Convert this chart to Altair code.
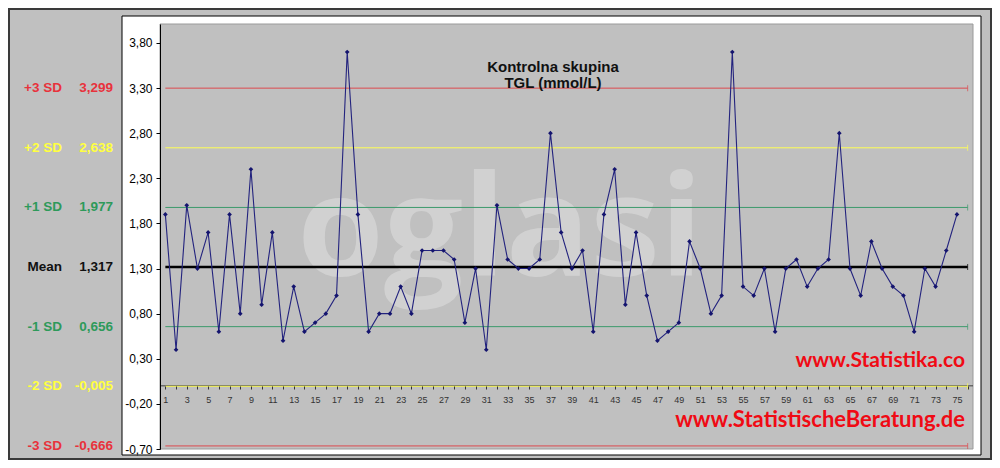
import altair as alt
import pandas as pd

# ---- data ----
measurements = [1.9, 0.4, 2.0, 1.3, 1.7, 0.6, 1.9, 0.8, 2.4, 0.9,
                1.7, 0.5, 1.1, 0.6, 0.7, 0.8, 1.0, 3.7, 1.9, 0.6,
                0.8, 0.8, 1.1, 0.8, 1.5, 1.5, 1.5, 1.4, 0.7, 1.3,
                0.4, 2.0, 1.4, 1.3, 1.3, 1.4, 2.8, 1.7, 1.3, 1.5,
                0.6, 1.9, 2.4, 0.9, 1.7, 1.0, 0.5, 0.6, 0.7, 1.6,
                1.3, 0.8, 1.0, 3.7, 1.1, 1.0, 1.3, 0.6, 1.3, 1.4,
                1.1, 1.3, 1.4, 2.8, 1.3, 1.0, 1.6, 1.3, 1.1, 1.0,
                0.6, 1.3, 1.1, 1.5, 1.9]
sample_no = list(range(1, len(measurements) + 1))

sd_names = ["+3 SD", "+2 SD", "+1 SD", "Mean", "-1 SD", "-2 SD", "-3 SD"]
sd_values = [3.299, 2.638, 1.977, 1.317, 0.656, -0.005, -0.666]
sd_texts = ["3,299", "2,638", "1,977", "1,317", "0,656", "-0,005", "-0,666"]
sd_line_colors = ["#dc4a4f", "#ffff55", "#3c9a6c", "#000000", "#3c9a6c", "#ffff55", "#dc4a4f"]
sd_text_colors = ["#e8323c", "#ffff40", "#2e9a5a", "#111111", "#2e9a5a", "#ffff40", "#e8323c"]
sd_widths = [1, 1, 1, 2.5, 1, 1, 1]
line_start, line_end = 1, 76

y_ticks = [-0.7, -0.2, 0.3, 0.8, 1.3, 1.8, 2.3, 2.8, 3.3, 3.8]
x_ticks = list(range(1, 77))

title_text = "Kontrolna skupina\nTGL (mmol/L)"
site1 = "www.Statistika.co"
site2 = "www.StatistischeBeratung.de"
watermark = "oglasi"

# ---- tables ----
df = pd.DataFrame({"n": sample_no, "v": measurements})
sd = pd.DataFrame({"name": sd_names, "val": sd_values, "txt": sd_texts,
                   "lc": sd_line_colors, "tc": sd_text_colors, "w": sd_widths,
                   "x0": line_start, "x1": line_end})
one = pd.DataFrame({"a": [0]})
zero = pd.DataFrame({"y": [0.0], "x0": [line_start - 0.5], "x1": [line_end + 0.5]})

W, H = 813, 425
FONT = "Liberation Sans"
xs = alt.Scale(domain=[0.5, 76.5], nice=False, zero=False)
ys = alt.Scale(domain=[-0.70, 4.01], nice=False, zero=False)
x_axis = alt.Axis(values=x_ticks, labelExpr="datum.value % 2 == 1 ? datum.label : ''",
                  offset=-63, domain=False, tickSize=3, tickColor="#333333",
                  labelFont=FONT, labelFontSize=9, labelColor="#333333", labelPadding=6,
                  grid=False, title=None, zindex=1, labelFlush=False, labelOverlap=False,
                  labelBound=False)
y_axis = alt.Axis(values=y_ticks,
                  labelExpr="(datum.value < 0 ? '-' : '') + replace(format(abs(datum.value), '.2f'), '.', ',')",
                  tickSize=4, tickColor="#000000", domainColor="#000000",
                  labelFont=FONT, labelFontSize=12, labelColor="#000000", labelPadding=4,
                  grid=False, title=None, zindex=1, labelOverlap=False)


def X(f):
    return alt.X(f, scale=xs, axis=x_axis)


def Y(f):
    return alt.Y(f, scale=ys, axis=y_axis)


frame = alt.Chart(one).mark_rect(fill="#c0c0c0", fillOpacity=0, stroke="#3a3a3a", strokeWidth=2).encode(
    x=alt.value(-151), x2=alt.value(831), y=alt.value(-15), y2=alt.value(435))
white_box = alt.Chart(one).mark_rect(fill="white", stroke="#000000", strokeWidth=1).encode(
    x=alt.value(-38), x2=alt.value(821), y=alt.value(-8), y2=alt.value(431))
plot_bg = alt.Chart(one).mark_rect(fill="#c0c0c0", stroke="#9a9a9a", strokeWidth=1).encode(
    x=alt.value(0), x2=alt.value(W), y=alt.value(0), y2=alt.value(H))

wm = alt.Chart(one).mark_text(text=watermark, font="Open Sans", fontWeight="bold", fontSize=140,
                              color="white", opacity=0.28, align="center", baseline="alphabetic").encode(
    x=alt.value(340), y=alt.value(252))

zero_rule = alt.Chart(zero).mark_rule(color="#404040", strokeWidth=1).encode(
    x=X("x0:Q"), x2="x1:Q", y=Y("y:Q"))

rules = alt.Chart(sd).mark_rule().encode(
    x=X("x0:Q"), x2="x1:Q", y=Y("val:Q"),
    color=alt.Color("lc:N", scale=None),
    strokeWidth=alt.StrokeWidth("w:Q", scale=None),
)
end_ticks = alt.Chart(sd).mark_tick(orient="vertical", size=6, thickness=1).encode(
    x=X("x1:Q"), y=Y("val:Q"), color=alt.Color("lc:N", scale=None))

line = alt.Chart(df).mark_line(color="#23237e", strokeWidth=1.1).encode(x=X("n:Q"), y=Y("v:Q"))
pts = alt.Chart(df).mark_point(shape="diamond", filled=True, size=22, color="#14146e", opacity=1).encode(
    x=X("n:Q"), y=Y("v:Q"))

title = alt.Chart(one).mark_text(text=title_text, lineBreak="\n", font=FONT, fontWeight="bold",
                                 fontSize=15, color="#111111", align="center", baseline="middle",
                                 lineHeight=16).encode(x=alt.value(393), y=alt.value(43))
s1 = alt.Chart(one).mark_text(text=site1, font="Lato", fontWeight="bold", fontSize=21, color="#f00a14",
                              align="right", baseline="middle").encode(x=alt.value(805), y=alt.value(337))
s2 = alt.Chart(one).mark_text(text=site2, font="Lato", fontWeight="bold", fontSize=22, color="#f00a14",
                              align="right", baseline="middle").encode(x=alt.value(805), y=alt.value(396))

lab_names = alt.Chart(sd).mark_text(font=FONT, fontWeight="bold", fontSize=13.5, align="right",
                                    baseline="middle").encode(
    x=alt.value(-98), y=Y("val:Q"), text="name:N", color=alt.Color("tc:N", scale=None))
lab_vals = alt.Chart(sd).mark_text(font=FONT, fontWeight="bold", fontSize=13.5, align="right",
                                   baseline="middle").encode(
    x=alt.value(-47), y=Y("val:Q"), text="txt:N", color=alt.Color("tc:N", scale=None))

chart = alt.layer(frame, white_box, plot_bg, wm, zero_rule, rules, end_ticks, line, pts,
                  title, s1, s2, lab_names, lab_vals).properties(
    width=W, height=H,
    autosize=alt.AutoSizeParams(type="none"),
    padding={"left": 152, "top": 16, "right": 19, "bottom": 11},
    background="#c0c0c0",
).configure_view(stroke=None).configure_axis(labelOverlap=False)

chart.save("out.html", embed_options={"renderer": "svg", "actions": False})
